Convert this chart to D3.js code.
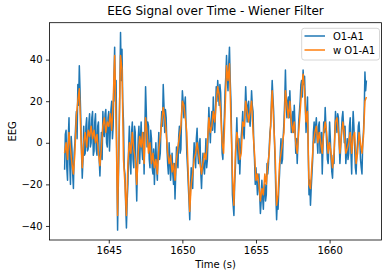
<!DOCTYPE html>
<html>
<head>
<meta charset="utf-8">
<script src="https://cdn.jsdelivr.net/npm/d3@7"></script>
<style>
    body{margin:0;background:#fff;}
    text{font-family:"DejaVu Sans",sans-serif;fill:#000;}
</style>
</head>
<body>
<div id="chart"></div>
<script>

// both recordings start at 1642.0 s
const startTime = 1642.0;
const rawStep = 0.05;
const wienerStep = 0.1;

const rawSignal = [
    -13,4,6,-12,-18,2,12,-10,-20,3,
    -3,-15,-22,-5,0,8,15,2,28,18,
    37,25,12,-5,-17,-8,8,-6,-5,8,
    12,-4,-3,10,14,-2,0,12,15,-6,
    -4,10,14,-3,-6,8,10,-8,-16,-5,
    5,-8,15,5,3,14,16,0,-2,12,
    15,-4,5,16,20,2,8,30,46,20,
    30,-10,-42,-20,0,25,53,30,45,20,
    10,-12,-15,-30,-41,-28,-20,-2,8,-10,
    -15,5,10,-8,-12,8,5,-15,-28,-10,
    2,8,-10,2,10,-3,-8,5,-15,5,
    27,15,-2,10,8,-8,-12,6,2,-12,
    -15,-3,-20,-8,0,-12,-18,-5,5,-8,
    -5,8,15,8,28,18,5,16,12,-2,
    -10,-15,0,-8,-18,-12,-5,-15,-20,-10,
    -27,-15,-2,-8,-12,3,8,-5,-3,14,
    25,20,12,18,22,8,-5,-12,-20,-28,
    -37,-22,-12,-18,-22,-8,0,-6,-12,2,
    7,-5,-10,0,2,-14,-22,-12,-5,-12,
    -15,-8,2,-12,-8,5,17,8,0,10,
    15,6,22,12,5,15,27,20,30,24,
    18,28,24,10,-5,-8,5,12,25,32,
    42,30,25,38,46,30,20,0,-25,-30,
    -35,-20,-12,0,12,-2,-10,2,-15,-5,
    3,8,15,5,2,15,27,18,10,18,
    20,12,8,15,25,18,15,0,-8,-20,
    -12,-18,-25,-20,-15,-25,-34,-28,-18,-26,
    -32,-22,-20,-28,-25,-10,-15,-10,-2,5,
    8,20,30,22,15,2,-10,-25,-37,-28,
    -32,-22,-15,-5,2,-10,-8,3,10,20,
    35,20,12,20,22,12,25,15,5,10,
    15,5,18,8,-5,2,-10,0,10,15,
    20,28,30,22,35,28,32,18,5,15,
    22,-5,-25,-18,-30,-22,-15,-8,5,10,
    0,8,12,2,-5,8,10,-5,-3,5,
    -15,-2,10,5,17,8,0,-8,-10,-2,
    10,2,-8,-14,-17,-6,-10,5,15,10,
    5,14,12,0,-10,-3,5,12,15,8,
    0,8,-10,-5,2,-8,-5,8,12,-5,
    -15,5,15,8,-2,-12,-15,-5,0,8,
    10,2,-8,-12,-15,0,5,15,34,25,
    30
];

const wienerSignal = [
    -5,0,-8,5,-3,-10,-15,-5,13,20,
    26,5,-12,0,5,-2,6,3,8,2,
    6,0,4,-5,-11,-2,8,12,5,10,
    8,14,6,20,42,8,-35,5,42,35,
    -8,-20,-35,-10,0,-5,5,-3,-8,-20,
    -5,3,-2,5,-10,12,5,-5,0,-10,
    -5,-12,-8,-15,-3,3,10,17,12,5,
    -5,-10,-6,-14,-10,-18,-8,-2,3,8,
    20,18,12,5,-15,-33,-20,-15,-8,-5,
    0,-5,-10,-15,-10,-5,-8,0,12,5,
    8,15,10,20,27,23,15,0,-5,15,
    37,30,38,10,-15,-30,-5,5,0,-8,
    -5,10,8,20,15,10,15,20,5,-5,
    -18,-15,-20,-28,-22,-25,-15,-20,-10,-5,
    10,25,10,-5,-30,-25,-10,-5,0,5,
    25,18,12,20,10,5,10,0,-5,5,
    15,25,33,25,10,15,-20,-22,-10,0,
    5,8,0,5,0,-5,5,10,5,-5,
    0,-5,-12,-5,10,12,5,-5,3,10,
    5,-5,-3,0,5,-5,3,5,-10,-5,
    5,0,-5,3,20,22
];

const seriesNames = ["O1-A1","w O1-A1"];
const seriesColors = ["#1f77b4","#ff7f0e"];

const xTicks = [1645,1650,1655,1660];
const yTicks = [-40,-20,0,20,40];


const width = 391;
const height = 278;
const margin = {top:22.7,right:9.5,bottom:38,left:49.5};

const svg = d3.select("#chart")
    .append("svg")
    .attr("width",width)
    .attr("height",height);

svg.append("rect")
    .attr("width",width)
    .attr("height",height)
    .attr("fill","#fff");

const series = [
    rawSignal.map((v,i)=>({t:startTime+i*rawStep,v:v})),
    wienerSignal.map((v,i)=>({t:startTime+i*wienerStep,v:v}))
];

const allPoints = series.flat();
const tExtent = d3.extent(allPoints,d=>d.t);
const vExtent = d3.extent(allPoints,d=>d.v);
const tPad = (tExtent[1]-tExtent[0])*0.05;
const vPad = (vExtent[1]-vExtent[0])*0.05;

const x = d3.scaleLinear()
    .domain([tExtent[0]-tPad,tExtent[1]+tPad])
    .range([margin.left,width-margin.right]);

const y = d3.scaleLinear()
    .domain([vExtent[0]-vPad,vExtent[1]+vPad])
    .range([height-margin.bottom,margin.top]);

const line = d3.line()
    .x(d=>x(d.t))
    .y(d=>y(d.v));

svg.append("clipPath")
    .attr("id","plot-clip")
    .append("rect")
    .attr("x",margin.left)
    .attr("y",margin.top)
    .attr("width",width-margin.left-margin.right)
    .attr("height",height-margin.top-margin.bottom);

const g = svg.append("g").attr("clip-path","url(#plot-clip)");

series.forEach((s,i)=>{

    g.append("path")
        .datum(s)
        .attr("d",line)
        .attr("fill","none")
        .attr("stroke",seriesColors[i])
        .attr("stroke-width",1.5)
        .attr("stroke-linejoin","round");

});

// axes
const xAxis = svg.append("g")
    .attr("transform",`translate(0,${height-margin.bottom})`)
    .call(d3.axisBottom(x).tickValues(xTicks).tickSize(3.5).tickPadding(3.5).tickFormat(d3.format("d")));

const yAxis = svg.append("g")
    .attr("transform",`translate(${margin.left},0)`)
    .call(d3.axisLeft(y).tickValues(yTicks).tickSize(3.5).tickPadding(3.5).tickFormat(d=>d<0 ? "\u2212"+Math.abs(d) : d));

[xAxis,yAxis].forEach(a=>{
    a.select(".domain").remove();
    a.selectAll(".tick line").attr("stroke","#000").attr("stroke-width",0.8);
    a.selectAll(".tick text").attr("font-size",10).attr("font-family","DejaVu Sans").attr("fill","#000");
});

svg.append("rect")
    .attr("x",margin.left)
    .attr("y",margin.top)
    .attr("width",width-margin.left-margin.right)
    .attr("height",height-margin.top-margin.bottom)
    .attr("fill","none")
    .attr("stroke","#000")
    .attr("stroke-width",0.8);

// titles
svg.append("text")
    .attr("x",(margin.left+width-margin.right)/2)
    .attr("y",15)
    .attr("text-anchor","middle")
    .attr("font-size",12)
    .text("EEG Signal over Time - Wiener Filter");

svg.append("text")
    .attr("x",(margin.left+width-margin.right)/2)
    .attr("y",268)
    .attr("text-anchor","middle")
    .attr("font-size",10)
    .text("Time (s)");

svg.append("text")
    .attr("transform",`translate(15.5,${(margin.top+height-margin.bottom)/2}) rotate(-90)`)
    .attr("text-anchor","middle")
    .attr("font-size",10)
    .text("EEG");

// legend
const legend = svg.append("g");

legend.append("rect")
    .attr("x",301.7)
    .attr("y",28.3)
    .attr("width",77.8)
    .attr("height",31.7)
    .attr("rx",2.5)
    .attr("fill","#fff")
    .attr("fill-opacity",0.8)
    .attr("stroke","#ccc")
    .attr("stroke-width",0.8);

seriesNames.forEach((name,i)=>{

    const ly = 36+i*14;

    legend.append("line")
        .attr("x1",304.5)
        .attr("x2",325)
        .attr("y1",ly)
        .attr("y2",ly)
        .attr("stroke",seriesColors[i])
        .attr("stroke-width",1.5);

    legend.append("text")
        .attr("x",333)
        .attr("y",ly+3.6)
        .attr("font-size",10)
        .text(name);

});

</script>
</body>
</html>
